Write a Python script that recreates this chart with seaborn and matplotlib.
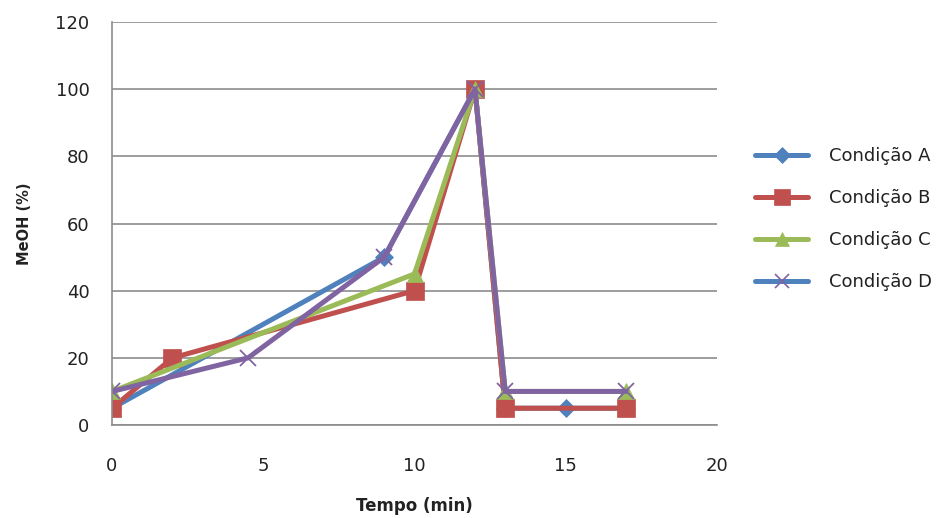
import matplotlib
matplotlib.use("Agg")
import matplotlib.pyplot as plt
from matplotlib.lines import Line2D
import seaborn as sns
import pandas as pd

sns.set_theme(style="white")
plt.rcParams['font.family'] = ['DejaVu Sans']

series_names = ["Condição A", "Condição B", "Condição C", "Condição D"]
x_A = [0, 9, 12, 13, 15, 17]
y_A = [5, 50, 100, 5, 5, 5]
x_B = [0, 2, 10, 12, 13, 17]
y_B = [5, 20, 40, 100, 5, 5]
x_C = [0, 10, 12, 13, 17]
y_C = [10, 45, 100, 10, 10]
x_D = [0, 4.5, 9, 12, 13, 17]
y_D = [10, 20, 50, 100, 10, 10]

colors = ["#4F81BD", "#C0504D", "#9BBB59", "#8064A2"]
markers = ["D", "s", "^", "x"]
msizes = [9, 13, 12, 12]

fig = plt.figure(figsize=(9.38, 5.18), dpi=100)
ax = fig.add_axes([0.1194, 0.1795, 0.6450, 0.7780])

data = [(x_A, y_A), (x_B, y_B), (x_C, y_C), (x_D, y_D)]
for (xs, ys), name, c, m, ms in zip(data, series_names, colors, markers, msizes):
    df = pd.DataFrame({"x": xs, "y": ys})
    sns.lineplot(data=df, x="x", y="y", ax=ax, color=c, linewidth=3.6,
                 marker=m, markersize=ms, markeredgecolor=c,
                 markeredgewidth=1.3 if m == "x" else 0.5,
                 estimator=None, sort=False, legend=False)

ax.set_xlim(0, 20)
ax.set_ylim(0, 120)
ax.set_xticks([0, 5, 10, 15, 20])
ax.set_yticks(range(0, 121, 20))
ax.yaxis.grid(True, color="#8c8c8c", linewidth=1.2)
ax.set_axisbelow(True)
for s in ["top", "right"]:
    ax.spines[s].set_visible(False)
for s in ["left", "bottom"]:
    ax.spines[s].set_color("#8c8c8c")
    ax.spines[s].set_linewidth(1.2)
ax.tick_params(axis="both", direction="out", length=6.2, width=1.2, color="#8c8c8c",
               labelsize=13, labelcolor="#222222")
ax.tick_params(axis="x", pad=17)
ax.tick_params(axis="y", pad=10)
ax.set_xlabel("Tempo (min)", fontsize=12, fontweight="bold", labelpad=16, color="#222222")
ax.set_ylabel("MeOH (%)", fontsize=10.5, fontweight="bold", labelpad=17, color="#222222")

handles = []
line_colors = ["#4F81BD", "#C0504D", "#9BBB59", "#4F81BD"]
for name, c, lc, m, ms in zip(series_names, colors, line_colors, markers, msizes):
    handles.append(Line2D([0], [0], color=lc, linewidth=3.6, marker=m, markersize=ms * 0.85,
                          markerfacecolor=c, markeredgecolor=c,
                          markeredgewidth=1.2 if m == "x" else 0.5))
leg = fig.legend(handles=handles, labels=series_names, loc="upper left",
                 bbox_to_anchor=(0.788, 0.747), frameon=False, fontsize=13,
                 handlelength=2.9, labelspacing=1.33, handletextpad=1.15,
                 borderpad=0.4)
for t in leg.get_texts():
    t.set_color("#222222")

fig.savefig("out.png", dpi=100)
